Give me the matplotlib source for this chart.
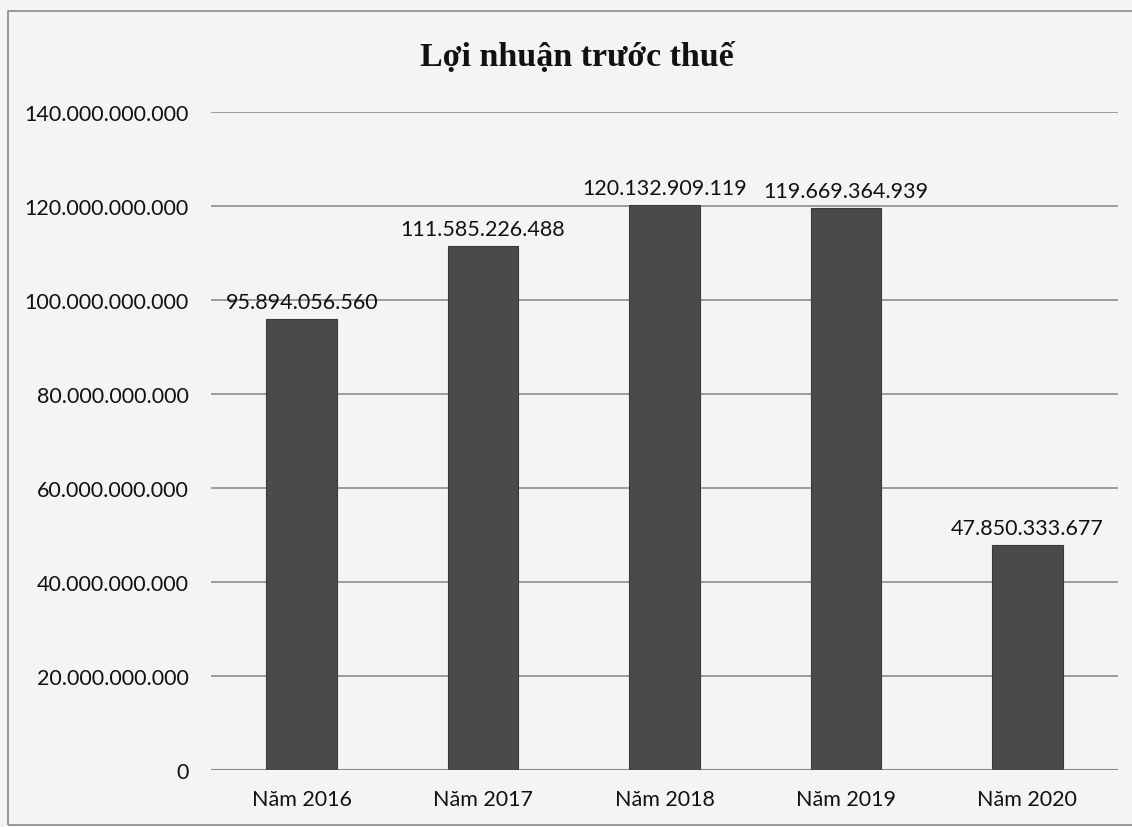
import matplotlib
matplotlib.use("Agg")
import matplotlib.pyplot as plt
from matplotlib.patches import Rectangle

categories = ["Năm 2016", "Năm 2017", "Năm 2018", "Năm 2019", "Năm 2020"]
values = [95894056560, 111585226488, 120132909119, 119669364939, 47850333677]
yticks = [0, 20e9, 40e9, 60e9, 80e9, 100e9, 120e9, 140e9]
title = "Lợi nhuận trước thuế"

def fmt(v):
    return "{:,}".format(int(round(v))).replace(",", ".")

W, H = 1132, 828
fig = plt.figure(figsize=(W / 100, H / 100), dpi=100)
fig.patch.set_facecolor("#f4f4f6")

ax = fig.add_axes([211 / W, 1 - 771 / H, (1118 - 211) / W, (771 - 113) / H])
ax.set_facecolor("none")

font = ["Lato", "DejaVu Sans"]
x = list(range(len(categories)))
ax.bar(x, values, width=0.39, color="#4a4a4d", edgecolor="#3a3a3c", linewidth=0.8, zorder=3)
ax.set_xlim(-0.5, len(categories) - 0.5)
ax.set_ylim(0, 140e9)
ax.set_yticks(yticks)
ax.set_yticklabels([fmt(v) for v in yticks], family=font, fontsize=15.5, color="#111111")
ax.set_xticks(x)
ax.set_xticklabels(categories, family=font, fontsize=15.5, color="#111111")
ax.tick_params(axis="y", length=0, pad=16)
ax.tick_params(axis="x", length=0, pad=14)
ax.grid(axis="y", color="#959595", linewidth=1.3, zorder=0)
for s in ax.spines.values():
    s.set_visible(False)
ax.axhline(0, color="#8a8a8a", linewidth=1.5, zorder=2)

for xi, v in zip(x, values):
    ax.annotate(fmt(v), (xi, v), xytext=(0, 5), textcoords="offset points",
                ha="center", va="bottom", family=font, fontsize=15.5, color="#111111", zorder=4)

fig.text(577 / W, 1 - 58 / H, title, ha="center", va="center",
         family=["Liberation Serif", "DejaVu Serif"], fontweight="bold", fontsize=24.5, color="#111111")

fig.add_artist(Rectangle((8 / W, 2 / H), 1.2, (H - 14) / H, transform=fig.transFigure,
                         fill=False, edgecolor="#8a8a8a", linewidth=1.2))

fig.savefig("out.png", dpi=100, facecolor=fig.get_facecolor())
